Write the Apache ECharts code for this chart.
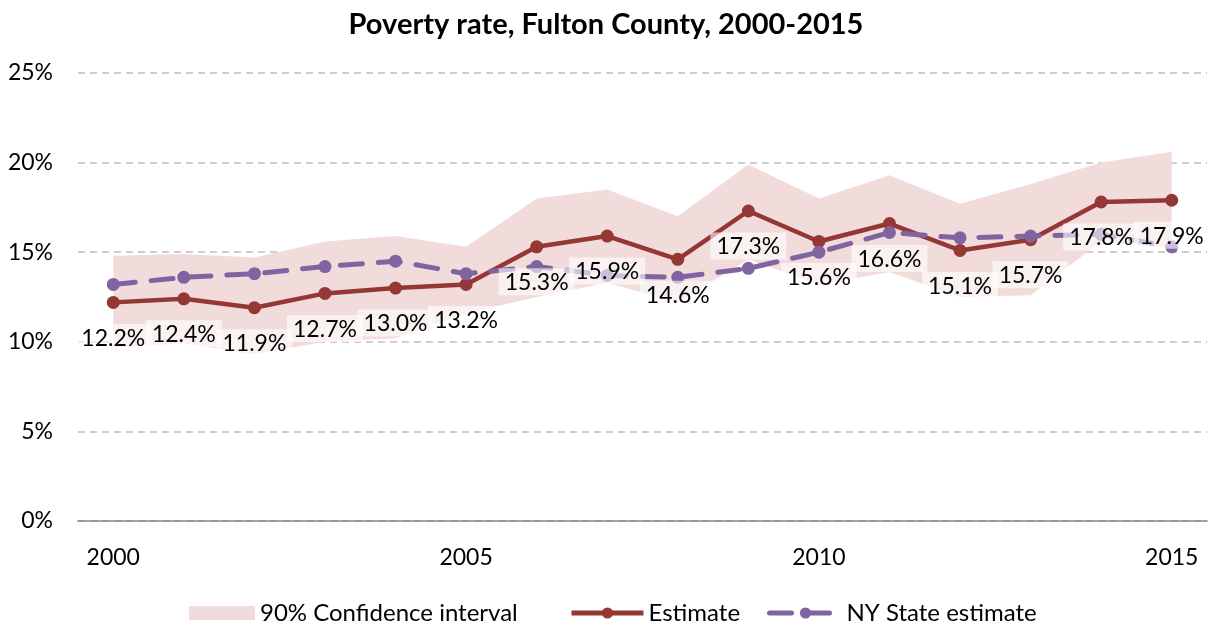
<!DOCTYPE html>
<html>
<head>
<meta charset="utf-8">
<script src="https://cdn.jsdelivr.net/npm/echarts@6/dist/echarts.min.js"></script>
<style>html,body{margin:0;padding:0;background:#fff}#c{width:1212px;height:625px}</style>
</head>
<body>
<div id="c"></div>
<script>
const years = ['2000','2001','2002','2003','2004','2005','2006','2007','2008','2009','2010','2011','2012','2013','2014','2015'];
const estimate = [12.2,12.4,11.9,12.7,13.0,13.2,15.3,15.9,14.6,17.3,15.6,16.6,15.1,15.7,17.8,17.9];
const nyState = [13.2,13.6,13.8,14.2,14.5,13.8,14.2,13.7,13.6,14.1,15.0,16.1,15.8,15.9,16.0,15.3];
const ciUpper = [14.8,14.9,14.7,15.6,15.9,15.3,18.0,18.5,17.0,19.9,18.0,19.3,17.7,18.8,20.0,20.6];
const ciLower = [9.7,9.9,9.3,10.0,10.2,11.6,12.5,13.3,12.2,14.6,13.2,13.9,12.5,12.6,15.6,15.2];
const yTicks = [0,5,10,15,20,25];

const FONT = 'Lato';
const RED = '#953735', PURPLE = '#8064A2', PINK = '#F2DCDB';
const ciSpan = ciUpper.map((u,i)=>+(u-ciLower[i]).toFixed(2));

const legendText = {fontFamily:FONT,fontSize:24,color:'#000'};
const chart = echarts.init(document.getElementById('c'), null, {renderer:'canvas'});
chart.setOption({
  animation:false,
  textStyle:{fontFamily:FONT},
  title:{text:'Poverty rate, Fulton County, 2000-2015',left:'center',top:5,
    textStyle:{fontFamily:FONT,fontWeight:'bold',fontSize:29,color:'#000'}},
  grid:{left:78,right:5,top:73,bottom:104},
  legend:[
    {left:184,top:596,itemWidth:66,itemHeight:14,itemGap:0,textStyle:legendText,
      data:[{name:'90% Confidence interval',icon:'rect'}]},
    {left:564,top:596,itemWidth:72,itemHeight:14,itemGap:0,textStyle:legendText,
      data:[{name:'Estimate',lineStyle:{width:5}}]},
    {left:762,top:596,itemWidth:72,itemHeight:14,itemGap:0,textStyle:legendText,
      data:[{name:'NY State estimate',lineStyle:{width:5}}]}
  ],
  xAxis:{type:'category',data:years,boundaryGap:true,
    axisLine:{lineStyle:{color:'#868686',width:1.5}},
    axisTick:{interval:0,length:8,lineStyle:{color:'#868686',width:1.5}},
    axisLabel:{interval:4,fontSize:23,color:'#000',margin:25,fontFamily:FONT},
    splitLine:{show:false}},
  yAxis:{type:'value',min:0,max:25,interval:5,
    axisLine:{show:false},axisTick:{show:false},
    axisLabel:{formatter:v=>yTicks.includes(v)?v+'%':'',fontSize:23,color:'#000',margin:25,fontFamily:FONT},
    splitLine:{lineStyle:{color:'#BFBFBF',type:[7,5],width:1.5}}},
  series:[
    {name:'ciBase',type:'line',stack:'ci',data:ciLower,symbol:'none',lineStyle:{opacity:0},areaStyle:{opacity:0},silent:true,z:1},
    {name:'90% Confidence interval',type:'line',stack:'ci',data:ciSpan,symbol:'none',
      lineStyle:{opacity:0,width:0},itemStyle:{color:PINK},areaStyle:{color:PINK,opacity:1},z:1},
    {name:'Estimate',type:'line',data:estimate,symbol:'circle',symbolSize:13,
      lineStyle:{color:RED,width:4.5},itemStyle:{color:RED},z:3},
    {name:'NY State estimate',type:'line',data:nyState,symbol:'circle',symbolSize:13,
      lineStyle:{color:PURPLE,width:5,type:[22,16],cap:'round'},itemStyle:{color:PURPLE},z:4},
    {name:'labels',type:'line',data:estimate,symbol:'circle',symbolSize:13,showSymbol:true,
      itemStyle:{color:'rgba(0,0,0,0)'},lineStyle:{opacity:0,width:0},silent:true,z:10,
      label:{show:true,position:'bottom',distance:15,formatter:p=>p.value.toFixed(1)+'%',
        fontSize:23,color:'#000',fontFamily:FONT,backgroundColor:'rgba(255,255,255,0.6)',padding:[3,6,1,6]}}
  ]
});
</script>
</body>
</html>
